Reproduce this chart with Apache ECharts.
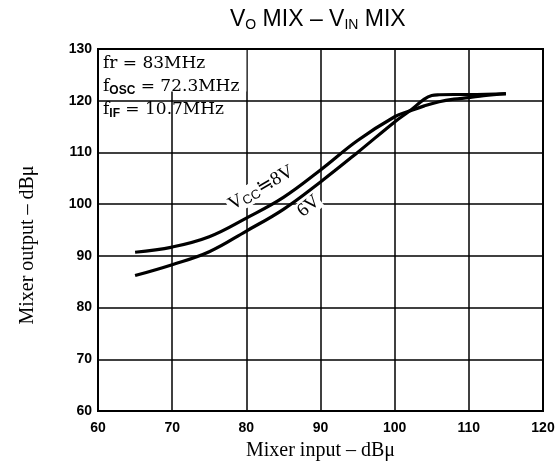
<!DOCTYPE html>
<html>
<head>
<meta charset="utf-8">
<script src="https://cdn.jsdelivr.net/npm/echarts@6/dist/echarts.min.js"></script>
<style>html,body{margin:0;padding:0;background:#fff;}#c{width:557px;height:466px;}</style>
</head>
<body>
<div id="c"></div>
<script>
// ---- data ----
const xTicks = [60, 70, 80, 90, 100, 110, 120];
const yTicks = [60, 70, 80, 90, 100, 110, 120, 130];
const inputVcc8 = [65, 70, 75, 80, 85, 90, 95, 100, 102, 104, 106, 108, 110, 112, 115];
const outputVcc8 = [90.7, 91.7, 93.7, 97.3, 101.3, 106.6, 112.3, 116.9, 118.0, 119.0, 119.8, 120.3, 120.6, 121.0, 121.3];
const inputVcc6 = [65, 70, 75, 80, 85, 90, 95, 100, 102, 104, 105, 106, 108, 110, 115];
const outputVcc6 = [86.2, 88.3, 90.8, 94.8, 99.0, 104.3, 110.0, 115.9, 118.0, 120.3, 121.0, 121.15, 121.2, 121.2, 121.4];
const titleText = 'V{s|O} MIX – V{s|IN} MIX';
const xName = 'Mixer input – dBμ';
const yName = 'Mixer output – dBμ';
const condLines = ['fr = 83MHz', 'f{s|OSC} = 72.3MHz', 'f{s|IF} = 10.7MHz'];
const label8 = 'V{s|CC}≒8V';
const label6 = '6V';
const label8Pos = [82.0, 103.1];
const label6Pos = [88.4, 99.6];

const chart = echarts.init(document.getElementById('c'));
const serif = "'Liberation Serif', 'DejaVu Serif', serif";
const sans = "'Liberation Sans', Arial, sans-serif";

function pairs(xs, ys) { return xs.map((x, i) => [x, ys[i]]); }

const option = {
  animation: false,
  backgroundColor: '#fff',
  title: {
    text: titleText,
    left: 225, top: 2,
    textStyle: {
      fontFamily: sans, fontSize: 23, fontWeight: 'normal', color: '#000',
      rich: { s: { fontFamily: sans, fontSize: 14, color: '#000', padding: [11, 0, 0, 0] } }
    }
  },
  grid: { left: 98, right: 14, top: 49, bottom: 55, outerBoundsMode: 'none', containLabel: false },
  xAxis: {
    type: 'value', min: 60, max: 120, interval: 10,
    name: xName, nameLocation: 'middle', nameGap: 30,
    nameTextStyle: { fontFamily: serif, fontSize: 20, color: '#000' },
    axisLine: { show: true, lineStyle: { color: '#000', width: 2 } },
    axisTick: { show: false },
    axisLabel: { fontFamily: sans, fontWeight: 'bold', fontSize: 14, color: '#000', margin: 10 },
    splitLine: { show: true, lineStyle: { color: '#000', width: 1.5 } }
  },
  yAxis: {
    type: 'value', min: 60, max: 130, interval: 10,
    name: yName, nameLocation: 'middle', nameGap: 60, nameRotate: 90,
    nameTextStyle: { fontFamily: serif, fontSize: 20, color: '#000', padding: [0, 30, 0, 0] },
    axisLine: { show: true, lineStyle: { color: '#000', width: 2 } },
    axisTick: { show: false },
    axisLabel: { fontFamily: sans, fontWeight: 'bold', fontSize: 14, color: '#000', margin: 6 },
    splitLine: { show: true, lineStyle: { color: '#000', width: 1.5 } }
  },
  series: [
    {
      name: 'VCC 8V', type: 'line', data: pairs(inputVcc8, outputVcc8),
      showSymbol: false, smooth: 0.4,
      lineStyle: { color: '#000', width: 3.2 }, z: 3,
      markArea: {
        silent: true,
        itemStyle: { color: '#fff' },
        data: [[{ coord: [60, 121.8] }, { coord: [80, 130] }]]
      }
    },
    {
      name: 'VCC 6V', type: 'line', data: pairs(inputVcc6, outputVcc6),
      showSymbol: false, smooth: 0.4,
      lineStyle: { color: '#000', width: 3.2 }, z: 3
    }
  ]
};
chart.setOption(option);

const p8 = chart.convertToPixel({ gridIndex: 0 }, label8Pos);
const p6 = chart.convertToPixel({ gridIndex: 0 }, label6Pos);
const tl = chart.convertToPixel({ gridIndex: 0 }, [60, 130]);
const br = chart.convertToPixel({ gridIndex: 0 }, [120, 60]);

chart.setOption({
  graphic: [
    {
      type: 'rect', z: 10, silent: true,
      shape: { x: tl[0], y: tl[1], width: br[0] - tl[0], height: br[1] - tl[1] },
      style: { fill: 'none', stroke: '#000', lineWidth: 2 }
    },
    {
      type: 'text', z: 10, x: tl[0] + 5, y: tl[1] + 3,
      style: {
        text: condLines.join('\n'),
        font: "17px 'DejaVu Serif', serif",
        fill: '#000', lineHeight: 23,
        rich: { s: { font: "bold 12px 'Liberation Sans', sans-serif", fill: '#000', padding: [8, 0, 0, 0], lineHeight: 23 } }
      }
    },
    {
      type: 'text', z: 2, x: p8[0], y: p8[1], rotation: 30 * Math.PI / 180,
      style: {
        text: label8, align: 'center', verticalAlign: 'middle',
        font: "19px 'Liberation Serif', serif", fill: '#000',
        backgroundColor: '#fff', padding: [0, 2],
        rich: { s: { font: "13px 'Liberation Sans', sans-serif", fill: '#000', padding: [7, 0, 0, 0], backgroundColor: '#fff' } }
      }
    },
    {
      type: 'text', z: 2, x: p6[0], y: p6[1], rotation: 40 * Math.PI / 180,
      style: {
        text: label6, align: 'center', verticalAlign: 'middle',
        font: "19px 'Liberation Serif', serif", fill: '#000',
        backgroundColor: '#fff', padding: [0, 1]
      }
    }
  ]
});
</script>
</body>
</html>
